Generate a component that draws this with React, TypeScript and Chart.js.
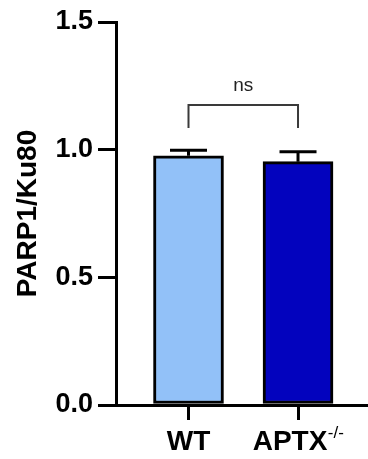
import React, { useEffect, useRef } from "react";
import { Chart, registerables } from "chart.js";

Chart.register(...registerables);

const categories = ["WT", "APTX"];
const superscripts = ["", "-/-"];
const means = [0.976, 0.953];
const sems = [0.022, 0.039];
const barColors = ["#92C1F8", "#0303BE"];
const yTickValues = [0, 0.5, 1.0, 1.5];
const bracketLevels = [1.085, 1.175];
const bracketPair = [0, 1];
const bracketLabel = "ns";

const FONT = "'Liberation Sans', Arial, Helvetica, sans-serif";

const overlayPlugin = {
  id: "overlay",
  afterDatasetsDraw(chart: any) {
    const ctx = chart.ctx;
    const xs = chart.scales.x;
    const ys = chart.scales.y;
    ctx.save();
    // error bars (upper only)
    ctx.strokeStyle = "#000";
    ctx.lineWidth = 3;
    means.forEach((m, i) => {
      const x = xs.getPixelForValue(i + 1);
      const yTop = ys.getPixelForValue(m);
      const yErr = ys.getPixelForValue(m + sems[i]);
      ctx.beginPath();
      ctx.moveTo(x, yTop);
      ctx.lineTo(x, yErr);
      ctx.moveTo(x - 18.5, yErr);
      ctx.lineTo(x + 18.5, yErr);
      ctx.stroke();
    });
    // significance bracket
    const x1 = xs.getPixelForValue(bracketPair[0] + 1);
    const x2 = xs.getPixelForValue(bracketPair[1] + 1);
    const yb = ys.getPixelForValue(bracketLevels[0]);
    const yt = ys.getPixelForValue(bracketLevels[1]);
    ctx.strokeStyle = "#3a3a3a";
    ctx.lineWidth = 2;
    ctx.beginPath();
    ctx.moveTo(x1, yb);
    ctx.lineTo(x1, yt);
    ctx.lineTo(x2, yt);
    ctx.lineTo(x2, yb);
    ctx.stroke();
    ctx.fillStyle = "#222";
    ctx.font = `19px ${FONT}`;
    ctx.textAlign = "center";
    ctx.textBaseline = "alphabetic";
    ctx.fillText(bracketLabel, (x1 + x2) / 2, yt - 14);
    ctx.restore();
  },
  afterDraw(chart: any) {
    const ctx = chart.ctx;
    const xs = chart.scales.x;
    ctx.save();
    ctx.fillStyle = "#000";
    ctx.textBaseline = "alphabetic";
    ctx.textAlign = "left";
    const baseY = chart.chartArea.bottom + 45;
    categories.forEach((c, i) => {
      const x = xs.getPixelForValue(i + 1);
      ctx.font = `bold 28px ${FONT}`;
      const w1 = ctx.measureText(c).width;
      ctx.font = `17px ${FONT}`;
      const w2 = superscripts[i] ? ctx.measureText(superscripts[i]).width : 0;
      const start = x - (w1 + w2) / 2;
      ctx.font = `bold 28px ${FONT}`;
      ctx.fillText(c, start, baseY);
      if (superscripts[i]) {
        ctx.font = `17px ${FONT}`;
        ctx.fillText(superscripts[i], start + w1 + 0.5, baseY - 12);
      }
    });
    ctx.restore();
  },
};

export default function App() {
  const ref = useRef<HTMLCanvasElement>(null);
  useEffect(() => {
    if (!ref.current) return;
    const chart = new Chart(ref.current, {
      type: "bar",
      data: {
        datasets: [
          {
            data: means.map((v, i) => ({ x: i + 1, y: v })),
            backgroundColor: barColors,
            borderColor: "#000",
            borderWidth: 3,
            borderSkipped: false,
            barThickness: 70,
          },
        ],
      },
      options: {
        responsive: false,
        animation: false,
        devicePixelRatio: 1,
        layout: { padding: { top: 22, right: 0, left: 0, bottom: 0 } },
        plugins: {
          legend: { display: false },
          tooltip: { enabled: false },
        },
        scales: {
          x: {
            type: "linear",
            min: 0.338,
            max: 2.639,
            offset: false,
            afterBuildTicks: (s: any) => {
              s.ticks = categories.map((_, i) => ({ value: i + 1 }));
            },
            afterFit: (s: any) => {
              s.height = 54;
            },
            ticks: { display: false },
            grid: {
              display: true,
              offset: false,
              drawOnChartArea: false,
              drawTicks: true,
              tickLength: 15,
              tickWidth: 3,
              tickColor: "#000",
              color: "#000",
              lineWidth: 3,
            },
            border: { display: true, color: "#000", width: 3 },
          },
          y: {
            min: 0,
            max: 1.5,
            afterBuildTicks: (s: any) => {
              s.ticks = yTickValues.map((v) => ({ value: v }));
            },
            afterFit: (s: any) => {
              s.width = 116;
            },
            ticks: {
              callback: (v: any) => Number(v).toFixed(1),
              font: { family: FONT, size: 27, weight: "bold" },
              color: "#000",
              padding: 5,
            },
            grid: {
              display: true,
              drawOnChartArea: false,
              drawTicks: true,
              tickLength: 18,
              tickWidth: 3,
              tickColor: "#000",
              color: "#000",
              lineWidth: 3,
            },
            border: { display: true, color: "#000", width: 3 },
            title: {
              display: true,
              text: "PARP1/Ku80",
              font: { family: FONT, size: 28, weight: "bold", lineHeight: 1.2 },
              color: "#000",
              padding: { top: 11, bottom: 0 },
            },
          },
        },
      },
      plugins: [overlayPlugin],
    } as any);
    return () => chart.destroy();
  }, []);
  return (
    <div style={{ position: "absolute", left: 0, top: 0, width: 368, height: 459, background: "#fff" }}>
      <canvas ref={ref} width={368} height={459} style={{ display: "block" }} />
    </div>
  );
}
